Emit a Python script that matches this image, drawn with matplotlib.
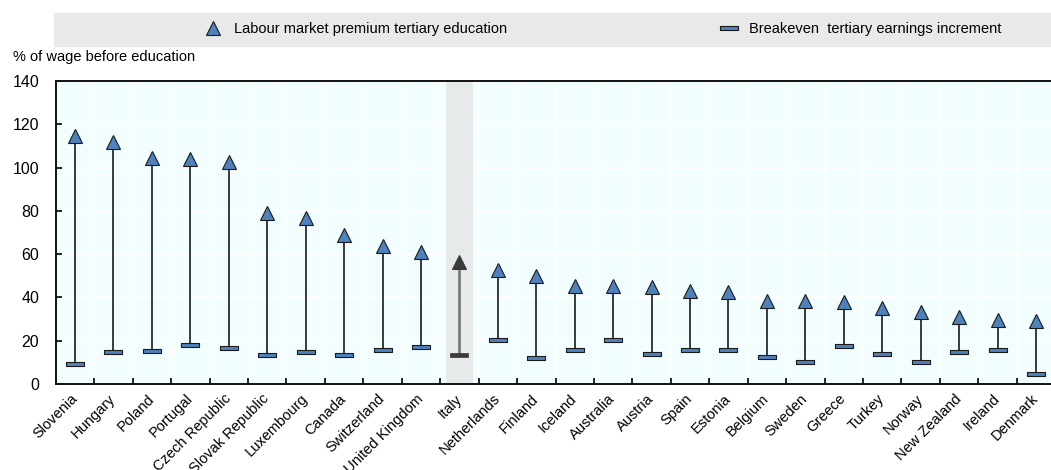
import matplotlib
matplotlib.use("Agg")
import matplotlib.pyplot as plt
from matplotlib.lines import Line2D
from matplotlib.patches import Rectangle
from matplotlib.font_manager import fontManager

countries = ["Slovenia", "Hungary", "Poland", "Portugal", "Czech Republic",
             "Slovak Republic", "Luxembourg", "Canada", "Switzerland",
             "United Kingdom", "Italy", "Netherlands", "Finland", "Iceland",
             "Australia", "Austria", "Spain", "Estonia", "Belgium", "Sweden",
             "Greece", "Turkey", "Norway", "New Zealand", "Ireland", "Denmark"]
premium = [114.6, 111.8, 104.2, 104.0, 102.4, 79.2, 76.7, 68.9, 63.8, 61.0,
           56.5, 52.7, 50.1, 45.5, 45.5, 44.7, 43.2, 42.7, 38.5, 38.5,
           37.9, 34.9, 33.3, 31.0, 29.8, 29.3]
breakeven = [9.2, 14.9, 15.1, 17.8, 16.5, 13.2, 14.9, 13.2, 15.9, 17.0,
             13.4, 20.4, 11.8, 15.6, 20.1, 13.9, 15.5, 15.6, 12.6, 10.3,
             17.4, 13.9, 10.2, 14.8, 15.7, 4.5]
highlight = "Italy"
y_ticks = [0, 20, 40, 60, 80, 100, 120, 140]

installed = {f.name for f in fontManager.ttflist}
narrow = "Liberation Sans Narrow" if "Liberation Sans Narrow" in installed else "Liberation Sans"
plt.rcParams["font.family"] = [narrow, "DejaVu Sans"]

BLUE = "#4F81BD"
DARK = "#3A3A3A"
BG = "#F2FDFE"

W, H = 1051, 470
fig = plt.figure(figsize=(W / 100, H / 100), dpi=100)
ax = fig.add_axes([55.8 / W, (H - 384) / H, (W - 55.8) / W, 303 / H])
ax.set_facecolor(BG)

n = len(countries)
x = list(range(n))
hi = countries.index(highlight)

# shaded band behind the highlighted country
ax.axvspan(hi - 0.35, hi + 0.35, color="#E6EAEA", zorder=1.5, lw=0)

# stems joining the breakeven increment to the labour market premium
for i in x:
    ax.plot([i, i], [breakeven[i], premium[i]],
            color="#707070" if i == hi else "#2A2A2A",
            lw=1.8 if i == hi else 1.3, zorder=3, solid_capstyle="butt")

bar_marker = [(-1, -0.24), (1, -0.24), (1, 0.24), (-1, 0.24), (-1, -0.24)]
others = [i for i in x if i != hi]
ax.plot(others, [breakeven[i] for i in others], ls="none", marker=bar_marker,
        ms=12.4, mfc=BLUE, mec="#1A1A1A", mew=0.8, zorder=4)
ax.plot(others, [premium[i] for i in others], ls="none", marker="^",
        ms=10, mfc=BLUE, mec="#1A1A1A", mew=0.8, zorder=4)
ax.plot([hi], [breakeven[hi]], ls="none", marker=bar_marker,
        ms=13, mfc=DARK, mec=DARK, mew=0.5, zorder=4)
ax.plot([hi], [premium[hi]], ls="none", marker="^",
        ms=10, mfc=DARK, mec=DARK, mew=0.8, zorder=4)

ax.set_xlim(-0.5, 25.39)
ax.set_ylim(0, 140)
ax.set_yticks(y_ticks)
ax.set_xticks(x)
ax.set_xticklabels(countries, rotation=45, ha="right", va="center",
                   rotation_mode="anchor", fontsize=10.5)
ax.set_xticks([i + 0.5 for i in x[:-1]], minor=True)
ax.tick_params(axis="x", which="major", length=0, pad=9)
ax.tick_params(axis="x", which="minor", direction="in", length=4, width=1.2)
ax.tick_params(axis="y", direction="in", length=4, width=1.2, pad=12,
               labelsize=11.5)

for v in y_ticks[1:-1]:
    ax.axhline(v, color="white", lw=1.2, zorder=1)
for v in [i + 0.5 for i in x[:-1]]:
    ax.axvline(v, color="white", lw=1.2, zorder=1)

for side in ("left", "bottom", "top"):
    ax.spines[side].set_linewidth(1.4)
    ax.spines[side].set_color("#111111")
ax.spines["right"].set_visible(False)

fig.text(13 / W, 1 - 57 / H, "% of wage before education", fontsize=10.5,
         va="center", ha="left")

# legend band
fig.patches.append(Rectangle((54 / W, 1 - 46 / H), 1 - 54 / W, 33 / H,
                             transform=fig.transFigure, color="#E9E9E9",
                             zorder=0))
handles = [Line2D([], [], ls="none", marker="^", ms=10, mfc=BLUE,
                  mec="#1A1A1A", mew=0.8),
           Line2D([], [], ls="none", marker=bar_marker, ms=12.4, mfc=BLUE,
                  mec="#1A1A1A", mew=0.8)]
fig.legend(handles, ["Labour market premium tertiary education",
                     "Breakeven  tertiary earnings increment"],
           loc="center", bbox_to_anchor=(600 / W, 1 - 29.5 / H), ncol=2,
           frameon=False, fontsize=10.5, columnspacing=14.2,
           handletextpad=0.4, handlelength=2.0)

fig.savefig("out.png", dpi=100)
